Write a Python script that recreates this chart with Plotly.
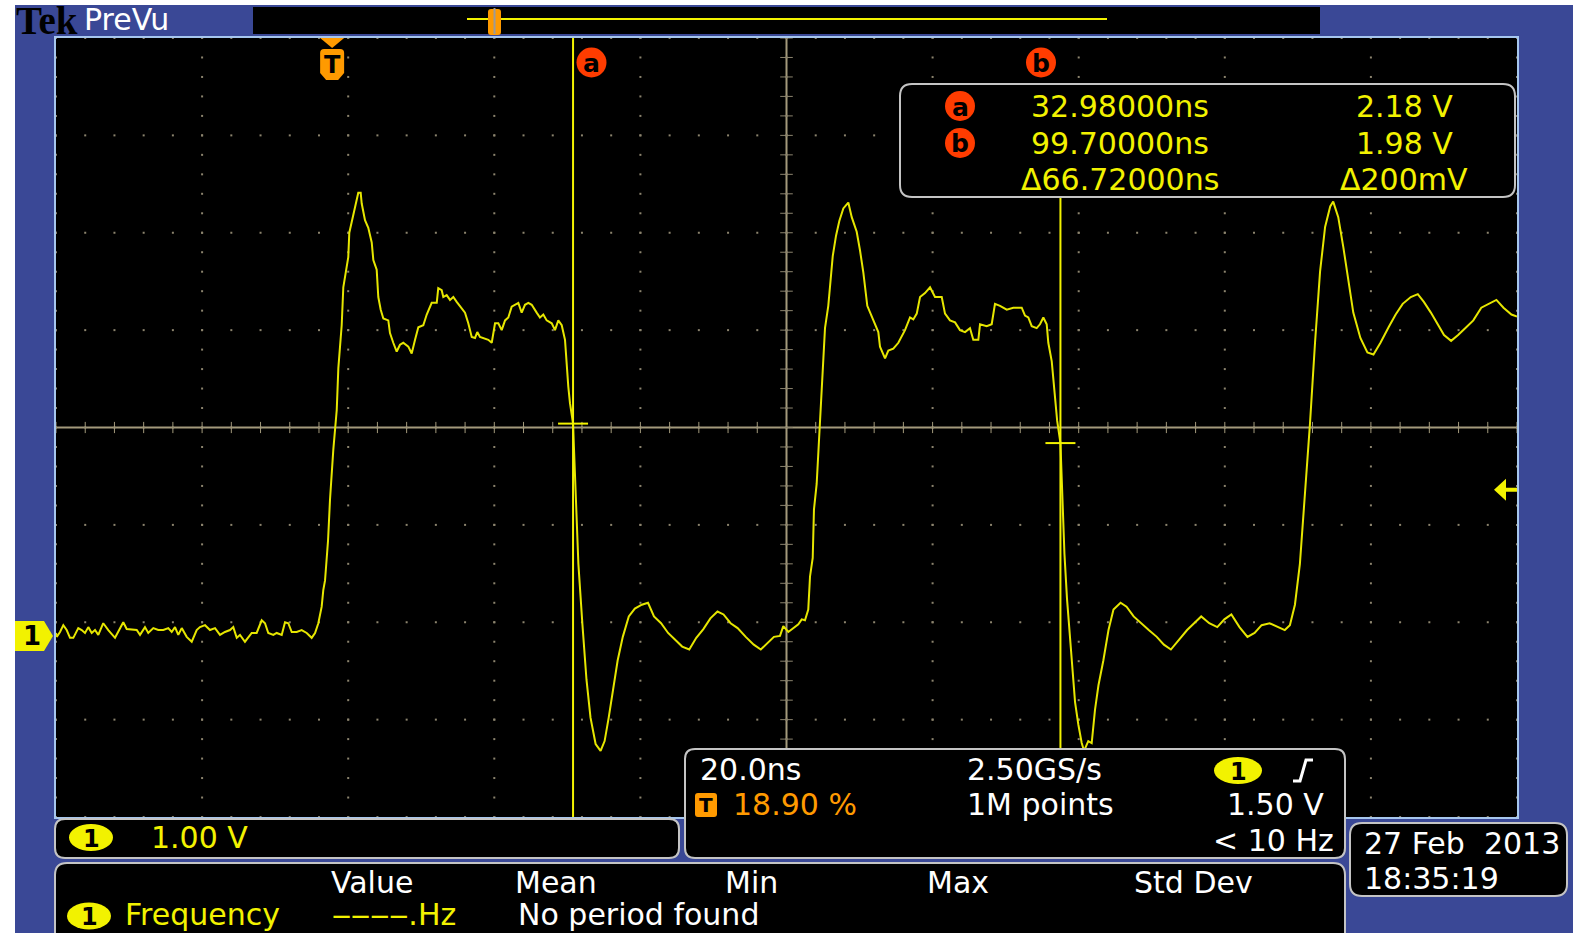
import plotly.graph_objects as go

# ---- acquisition settings (CH1) ----
TIME_PER_DIV_NS = 20.0
VOLTS_PER_DIV = 1.00
TRIGGER_POS_PCT = 18.90
TRIGGER_LEVEL_V = 1.50
CH1_OFFSET_DIV = -2.14
H_DIVS, V_DIVS = 10, 8
SAMPLE_RATE = "2.50GS/s"
RECORD_LEN = "1M points"
TRIG_FREQ = "< 10 Hz"
DATE_STR = "27 Feb  2013"
TIME_STR = "18:35:19"

# ---- cursors ----
cursor_a_ns, cursor_a_v = 32.98, 2.18
cursor_b_ns, cursor_b_v = 99.70, 1.98

# ---- measurement table ----
meas_headers = ["Value", "Mean", "Min", "Max", "Std Dev"]
meas_name = "Frequency"
meas_value = "\u2012\u2012\u2012\u2012.Hz"
meas_note = "No period found"

# ---- CH1 record ----
time_ns = [
    -37.80, -37.70, -37.25, -36.80, -36.34, -35.88, -35.43, -34.75, -34.28, -33.83,
    -33.38, -32.91, -32.46, -32.01, -31.33, -30.64, -29.72, -29.27, -28.59, -28.12,
    -27.22, -26.75, -26.30, -25.62, -25.17, -24.48, -23.80, -23.11, -22.43, -21.96,
    -21.51, -21.06, -20.59, -19.91, -19.22, -18.54, -18.09, -17.40, -16.72, -16.03,
    -15.35, -14.67, -13.98, -13.53, -13.06, -12.61, -11.93, -11.01, -10.33, -9.64,
    -9.19, -8.74, -8.05, -7.59, -6.90, -6.45, -6.00, -5.53, -4.85, -4.17,
    -3.48, -2.80, -2.34, -1.89, -1.43, -1.21, -0.97, -0.56, -0.29, 0.16,
    0.63, 0.85, 1.08, 1.31, 1.53, 1.99, 2.21, 2.35, 2.68, 3.13,
    3.58, 3.91, 4.05, 4.50, 4.95, 5.42, 5.64, 6.10, 6.32, 6.65,
    7.01, 7.69, 7.92, 8.37, 8.84, 9.29, 9.74, 10.43, 10.89, 11.35,
    11.80, 12.48, 12.95, 13.63, 14.32, 14.53, 15.00, 15.22, 15.68, 16.14,
    16.59, 17.05, 17.74, 18.19, 18.64, 19.11, 19.56, 19.87, 20.24, 20.70,
    21.38, 21.85, 22.30, 22.75, 23.21, 23.67, 24.12, 24.58, 25.03, 25.49,
    25.95, 26.40, 26.86, 27.32, 28.00, 28.45, 28.91, 29.37, 30.06, 30.51,
    30.96, 31.43, 31.88, 32.11, 32.33, 32.56, 32.98, 33.10, 33.35, 33.71,
    34.27, 34.82, 35.37, 36.07, 36.75, 37.30, 37.86, 38.41, 39.09, 39.79,
    40.61, 41.44, 42.40, 43.24, 44.06, 45.03, 45.99, 46.96, 47.92, 48.89,
    49.85, 50.82, 51.78, 52.75, 53.58, 54.55, 55.51, 56.62, 57.72, 58.68,
    59.65, 60.48, 61.31, 61.76, 62.45, 63.13, 63.82, 64.28, 64.73, 65.18,
    65.42, 65.79, 65.96, 66.33, 66.55, 66.79, 67.02, 67.24, 67.47, 67.92,
    68.16, 68.53, 68.98, 69.43, 69.98, 70.66, 71.13, 71.81, 72.26, 72.72,
    73.26, 74.08, 74.77, 75.00, 75.69, 76.14, 76.82, 77.51, 77.97, 78.42,
    79.11, 79.56, 80.03, 80.48, 81.16, 81.85, 82.53, 83.45, 83.90, 84.58,
    85.27, 85.95, 86.64, 87.32, 87.77, 88.46, 88.69, 89.61, 90.29, 90.74,
    91.43, 92.35, 93.25, 94.40, 94.85, 95.30, 95.77, 96.45, 96.90, 97.36,
    97.82, 98.04, 98.51, 98.85, 99.25, 99.70, 99.90, 100.05, 100.25, 100.60,
    101.00, 101.38, 101.70, 102.15, 102.61, 102.93, 103.51, 103.98, 104.43, 104.90,
    105.58, 106.28, 106.96, 107.93, 108.75, 109.72, 110.68, 111.79, 112.89, 113.86,
    114.82, 115.93, 117.04, 118.00, 118.97, 120.07, 121.17, 122.14, 123.10, 124.21,
    125.30, 126.28, 127.24, 128.34, 129.45, 130.41, 131.11, 131.80, 132.48, 133.17,
    133.86, 134.55, 135.24, 135.93, 136.63, 137.04, 137.73, 138.43, 139.11, 139.79,
    140.76, 141.72, 142.55, 143.51, 144.62, 145.59, 146.55, 147.66, 148.62, 149.45,
    150.41, 151.39, 152.21, 153.18, 154.14, 155.25, 156.22, 157.31, 158.28, 159.38,
    160.35, 161.44, 162.20,
]
volts = [
    0.03, -0.01, 0.04, 0.11, 0.06, -0.02, -0.02, 0.08, 0.06, 0.03,
    0.09, 0.03, 0.06, 0.01, 0.13, 0.06, -0.02, 0.04, 0.14, 0.07,
    0.06, 0.06, 0.01, 0.09, 0.03, 0.08, 0.06, 0.06, 0.08, 0.04,
    0.09, 0.01, 0.08, -0.01, -0.06, 0.06, 0.09, 0.11, 0.06, 0.08,
    0.01, 0.04, 0.06, 0.09, -0.02, 0.01, -0.06, 0.03, 0.03, 0.16,
    0.13, 0.03, 0.01, 0.03, 0.01, 0.14, 0.13, 0.04, 0.04, 0.06,
    0.03, -0.02, 0.03, 0.13, 0.30, 0.47, 0.57, 0.98, 1.40, 1.91,
    2.32, 2.75, 2.97, 3.19, 3.58, 3.79, 3.89, 4.14, 4.25, 4.37,
    4.55, 4.55, 4.44, 4.27, 4.19, 4.04, 3.86, 3.76, 3.48, 3.35,
    3.26, 3.24, 3.11, 3.01, 2.92, 2.99, 3.01, 2.97, 2.90, 3.04,
    3.17, 3.19, 3.30, 3.42, 3.42, 3.57, 3.55, 3.48, 3.50, 3.45,
    3.48, 3.43, 3.37, 3.32, 3.21, 3.07, 3.06, 3.12, 3.07, 3.06,
    3.04, 3.01, 3.21, 3.21, 3.14, 3.24, 3.27, 3.38, 3.40, 3.42,
    3.32, 3.40, 3.42, 3.40, 3.32, 3.27, 3.30, 3.24, 3.21, 3.14,
    3.24, 3.19, 3.04, 2.73, 2.56, 2.39, 2.18, 1.94, 1.36, 0.74,
    0.11, -0.45, -0.84, -1.11, -1.18, -1.08, -0.84, -0.56, -0.25, -0.01,
    0.20, 0.28, 0.32, 0.34, 0.20, 0.13, 0.03, -0.04, -0.11, -0.14,
    -0.02, 0.07, 0.18, 0.25, 0.22, 0.13, 0.08, -0.01, -0.09, -0.14,
    -0.07, -0.01, 0.00, 0.10, 0.04, 0.08, 0.12, 0.17, 0.16, 0.27,
    0.61, 0.80, 1.30, 1.56, 1.87, 2.17, 2.55, 2.78, 3.16, 3.39,
    3.62, 3.90, 4.11, 4.26, 4.39, 4.45, 4.30, 4.15, 3.96, 3.73,
    3.39, 3.24, 3.12, 2.97, 2.85, 2.93, 2.95, 3.01, 3.08, 3.14,
    3.27, 3.25, 3.31, 3.48, 3.52, 3.58, 3.48, 3.48, 3.31, 3.24,
    3.22, 3.14, 3.12, 3.16, 3.04, 3.04, 3.20, 3.18, 3.20, 3.41,
    3.39, 3.35, 3.37, 3.37, 3.29, 3.27, 3.18, 3.16, 3.20, 3.27,
    3.20, 3.01, 2.82, 2.51, 2.21, 1.98, 1.52, 1.14, 0.84, 0.38,
    0.00, -0.45, -0.68, -0.91, -1.10, -1.18, -1.08, -1.10, -0.76, -0.51,
    -0.25, 0.06, 0.27, 0.34, 0.30, 0.20, 0.13, 0.06, -0.01, -0.09,
    -0.14, -0.04, 0.06, 0.13, 0.20, 0.13, 0.09, 0.17, 0.22, 0.09,
    -0.01, 0.03, 0.11, 0.13, 0.09, 0.06, 0.11, 0.32, 0.74, 1.46,
    2.18, 3.01, 3.74, 4.20, 4.41, 4.46, 4.30, 3.99, 3.63, 3.32,
    3.06, 2.91, 2.89, 3.01, 3.17, 3.30, 3.41, 3.48, 3.51, 3.43,
    3.32, 3.20, 3.09, 3.03, 3.09, 3.17, 3.24, 3.37, 3.41, 3.45,
    3.37, 3.30, 3.28,
]

# ---- screen geometry ----
W, H = 1580, 933
L, R, T, B = 56, 1517, 38, 817

BLUE = "#3a4896"
YELLOW = "#f2f200"
TRACE = "#e6e600"
ORANGE = "#ff9a00"
RED = "#ff3c00"
FRAME = "#c4c4c4"
GRID = "#8c846e"
AXIS = "#a39a7c"
FONT = "DejaVu Sans"

t_left = -TRIGGER_POS_PCT / 100.0 * H_DIVS * TIME_PER_DIV_NS
t_right = t_left + H_DIVS * TIME_PER_DIV_NS
v_bottom = (-V_DIVS / 2 - CH1_OFFSET_DIV) * VOLTS_PER_DIV
v_top = v_bottom + V_DIVS * VOLTS_PER_DIV
t_mid = (t_left + t_right) / 2
v_mid = (v_bottom + v_top) / 2


def PX(x):
    return (x - L) / (R - L)


def PY(y):
    return (B - y) / (B - T)


shapes = []
annotations = []


def rect(x0, y0, x1, y1, fill, line=None, width=0, layer="above"):
    shapes.append(dict(type="rect", xref="paper", yref="paper",
                       x0=PX(x0), x1=PX(x1), y0=PY(y1), y1=PY(y0),
                       fillcolor=fill, layer=layer,
                       line=dict(color=line or fill, width=width)))


def rrect(x0, y0, x1, y1, r, fill="black", line=FRAME, width=2):
    p = (f"M {PX(x0 + r)},{PY(y0)} L {PX(x1 - r)},{PY(y0)} "
         f"Q {PX(x1)},{PY(y0)} {PX(x1)},{PY(y0 + r)} L {PX(x1)},{PY(y1 - r)} "
         f"Q {PX(x1)},{PY(y1)} {PX(x1 - r)},{PY(y1)} L {PX(x0 + r)},{PY(y1)} "
         f"Q {PX(x0)},{PY(y1)} {PX(x0)},{PY(y1 - r)} L {PX(x0)},{PY(y0 + r)} "
         f"Q {PX(x0)},{PY(y0)} {PX(x0 + r)},{PY(y0)} Z")
    shapes.append(dict(type="path", xref="paper", yref="paper", path=p,
                       fillcolor=fill, line=dict(color=line, width=width),
                       layer="above"))


def poly(points, fill, line=None, width=0, closed=True):
    p = "M " + " L ".join(f"{PX(x)},{PY(y)}" for x, y in points)
    if closed:
        p += " Z"
    shapes.append(dict(type="path", xref="paper", yref="paper", path=p,
                       fillcolor=fill, line=dict(color=line or fill, width=width),
                       layer="above"))


def ellipse(cx, cy, rx, ry, fill):
    shapes.append(dict(type="circle", xref="paper", yref="paper",
                       x0=PX(cx - rx), x1=PX(cx + rx), y0=PY(cy + ry), y1=PY(cy - ry),
                       fillcolor=fill, line=dict(color=fill, width=0), layer="above"))


def vline(x, y0, y1, color, width):
    shapes.append(dict(type="line", xref="paper", yref="paper",
                       x0=PX(x), x1=PX(x), y0=PY(y1), y1=PY(y0),
                       line=dict(color=color, width=width), layer="above"))


def hline(x0, x1, y, color, width):
    shapes.append(dict(type="line", xref="paper", yref="paper",
                       x0=PX(x0), x1=PX(x1), y0=PY(y), y1=PY(y),
                       line=dict(color=color, width=width), layer="above"))


def text(x, y, s, color, size=30, anchor="left", family=FONT, bold=False):
    annotations.append(dict(xref="paper", yref="paper", x=PX(x), y=PY(y),
                            text=f"<b>{s}</b>" if bold else s,
                            xanchor=anchor, yanchor="middle", showarrow=False,
                            font=dict(color=color, size=size, family=family)))


def badge(cx, cy, label, fill=YELLOW, rx=22, ry=13.5, size=24):
    ellipse(cx, cy, rx, ry, fill)
    text(cx, cy + 1, label, "black", size=size, anchor="center", bold=True)


fig = go.Figure()

# ---- graticule: dotted divisions ----
gx, gy = [], []
minor_t = TIME_PER_DIV_NS / 5
minor_v = VOLTS_PER_DIV / 5
for k in range(H_DIVS + 1):
    for j in range(V_DIVS * 5 + 1):
        gx.append(t_left + k * TIME_PER_DIV_NS)
        gy.append(v_bottom + j * minor_v)
for m in range(V_DIVS + 1):
    for i in range(H_DIVS * 5 + 1):
        gx.append(t_left + i * minor_t)
        gy.append(v_bottom + m * VOLTS_PER_DIV)
fig.add_trace(go.Scatter(x=gx, y=gy, mode="markers", hoverinfo="skip",
                         marker=dict(symbol="square", size=2, color=GRID,
                                     line=dict(width=0))))

# center cross ticks
fig.add_trace(go.Scatter(
    x=[t_left + i * minor_t for i in range(H_DIVS * 5 + 1)],
    y=[v_mid] * (H_DIVS * 5 + 1), mode="markers", hoverinfo="skip",
    marker=dict(symbol="line-ns", size=8, line=dict(color=AXIS, width=1))))
fig.add_trace(go.Scatter(
    x=[t_mid] * (V_DIVS * 5 + 1),
    y=[v_bottom + j * minor_v for j in range(V_DIVS * 5 + 1)], mode="markers",
    hoverinfo="skip",
    marker=dict(symbol="line-ew", size=9, line=dict(color=GRID, width=1))))

shapes.append(dict(type="line", xref="x", yref="y", x0=t_left, x1=t_right,
                   y0=v_mid, y1=v_mid, line=dict(color=AXIS, width=2), layer="below"))
shapes.append(dict(type="line", xref="x", yref="y", x0=t_mid, x1=t_mid,
                   y0=v_bottom, y1=v_top, line=dict(color=AXIS, width=2), layer="below"))

# ---- CH1 waveform ----
fig.add_trace(go.Scatter(x=time_ns, y=volts, mode="lines", hoverinfo="skip",
                         line=dict(color=TRACE, width=2)))

# ---- cursors ----
shapes.append(dict(type="line", xref="x", yref="paper", x0=cursor_a_ns, x1=cursor_a_ns,
                   y0=0, y1=1, line=dict(color=YELLOW, width=2), layer="above"))
shapes.append(dict(type="line", xref="x", yref="paper", x0=cursor_b_ns, x1=cursor_b_ns,
                   y0=0, y1=PY(197), line=dict(color=YELLOW, width=2), layer="above"))
for cx, cv in ((cursor_a_ns, cursor_a_v), (cursor_b_ns, cursor_b_v)):
    shapes.append(dict(type="line", xref="x", yref="y", xsizemode="pixel", xanchor=cx,
                       x0=-15, x1=15, y0=cv, y1=cv,
                       line=dict(color=YELLOW, width=2), layer="above"))


def cursor_tag(cx, cy, letter):
    ellipse(cx, cy, 15, 15, RED)
    text(cx, cy + 1, letter, "black", size=25, anchor="center", bold=True)


cursor_tag(591.5, 62.5, "a")
cursor_tag(1041, 62.5, "b")

# ---- trigger position marker (t = 0) ----
shapes.append(dict(type="path", xref="x", yref="paper", xsizemode="pixel", xanchor=0,
                   path=f"M -12,{PY(38)} L 12,{PY(38)} L 0,{PY(48)} Z",
                   fillcolor=ORANGE, line=dict(color=ORANGE, width=0), layer="above"))
shapes.append(dict(type="path", xref="x", yref="paper", xsizemode="pixel", xanchor=0,
                   path=(f"M -12,{PY(53)} Q -12,{PY(49)} -8,{PY(49)} L 8,{PY(49)} "
                         f"Q 12,{PY(49)} 12,{PY(53)} L 12,{PY(73)} L 6,{PY(80)} "
                         f"L -6,{PY(80)} L -12,{PY(73)} Z"),
                   fillcolor=ORANGE, line=dict(color=ORANGE, width=0), layer="above"))
annotations.append(dict(xref="x", yref="paper", x=0, y=PY(65), text="<b>T</b>",
                        showarrow=False, xanchor="center", yanchor="middle",
                        font=dict(color="black", size=24, family=FONT)))

# ---- trigger level arrow (right edge) ----
shapes.append(dict(type="path", xref="paper", yref="y", ysizemode="pixel",
                   yanchor=TRIGGER_LEVEL_V,
                   path=(f"M {PX(1494)},0 L {PX(1506)},-11 L {PX(1506)},-2 L {PX(1517)},-2 "
                         f"L {PX(1517)},2 L {PX(1506)},2 L {PX(1506)},11 Z"),
                   fillcolor=YELLOW, line=dict(color=YELLOW, width=0), layer="above"))

# ---- CH1 ground marker (left edge) ----
shapes.append(dict(type="path", xref="paper", yref="y", ysizemode="pixel", yanchor=0,
                   path=(f"M {PX(15)},-15 L {PX(44)},-15 L {PX(53)},0 L {PX(44)},15 "
                         f"L {PX(15)},15 Z"),
                   fillcolor=YELLOW, line=dict(color=YELLOW, width=0), layer="above"))
annotations.append(dict(xref="paper", yref="y", x=PX(32), y=0, text="<b>1</b>",
                        showarrow=False, xanchor="center", yanchor="middle",
                        font=dict(color="black", size=26, family=FONT)))

# ---- frame ----
rect(0, 0, 15, H, "white")
rect(0, 0, W, 5, "white")
rect(1573, 0, W, H, "white")
shapes.append(dict(type="rect", xref="paper", yref="paper", x0=PX(55), x1=PX(1518),
                   y0=PY(818), y1=PY(37), line=dict(color="#a6c6ee", width=2),
                   fillcolor="rgba(0,0,0,0)", layer="above"))

# header
text(14, 21, "Tek", "black", size=39, family="Liberation Serif", bold=True)
text(82, 20, "PreVu", "white", size=30)
rect(253, 7, 1320, 34, "black")
hline(467, 1107, 19, YELLOW, 2)
rrect(488, 9, 501, 35, 3, fill=ORANGE, line=ORANGE, width=0)
vline(494.5, 8, 34, "#9a9a9a", 2)

# ---- cursor readout ----
rrect(900, 84, 1515, 197, 12)
cursor_tag(960, 106, "a")
cursor_tag(960, 143, "b")
text(1120, 106, f"{cursor_a_ns:.5f}ns", YELLOW, anchor="center")
text(1120, 143, f"{cursor_b_ns:.5f}ns", YELLOW, anchor="center")
text(1120, 180, f"Δ{cursor_b_ns - cursor_a_ns:.5f}ns", YELLOW, anchor="center")
text(1404, 106, f"{cursor_a_v:.2f} V", YELLOW, anchor="center")
text(1404, 143, f"{cursor_b_v:.2f} V", YELLOW, anchor="center")
text(1404, 180, f"Δ{abs(cursor_a_v - cursor_b_v) * 1000:.0f}mV", YELLOW, anchor="center")

# ---- vertical scale box ----
rrect(55, 819, 679, 858, 10)
badge(91, 837.5, "1")
text(149, 837.5, f"{VOLTS_PER_DIV:.2f} V", YELLOW)

# ---- horizontal / trigger box ----
rrect(685, 749, 1345, 858, 10)
text(698, 769, f"{TIME_PER_DIV_NS:.1f}ns", "white")
rrect(695, 793, 717, 817, 3, fill=ORANGE, line=ORANGE, width=0)
text(706, 805, "T", "black", size=20, anchor="center", bold=True)
text(731, 804.5, f"{TRIGGER_POS_PCT:.2f} %", ORANGE)
text(965, 769, SAMPLE_RATE, "white")
text(965, 804.5, RECORD_LEN, "white")
badge(1238, 770.5, "1", rx=24)
poly([(1293, 781), (1300, 781), (1306, 760), (1313, 760)], "rgba(0,0,0,0)",
     line="white", width=3, closed=False)
text(1326, 804.5, f"{TRIGGER_LEVEL_V:.2f} V", "white", anchor="right")
text(1336, 840, TRIG_FREQ, "white", anchor="right")

# ---- measurement panel ----
rrect(55, 863, 1345, 950, 12)
for hx, h in zip([372, 556, 751, 958, 1193], meas_headers):
    text(hx, 882, h, "white", anchor="center")
badge(89, 916, "1")
text(123, 914.5, meas_name, YELLOW)
text(330, 914.5, meas_value, YELLOW)
text(516, 914.5, meas_note, "white")

# ---- date / time ----
rrect(1350, 823, 1567, 896, 12)
text(1362, 843, DATE_STR, "white")
text(1362, 878, TIME_STR, "white")

fig.update_layout(
    width=W, height=H, autosize=False,
    margin=dict(l=L, r=W - R, t=T, b=H - B, pad=0),
    paper_bgcolor=BLUE, plot_bgcolor="black",
    showlegend=False,
    xaxis=dict(range=[t_left, t_right], visible=False, fixedrange=True),
    yaxis=dict(range=[v_bottom, v_top], visible=False, fixedrange=True),
    shapes=shapes, annotations=annotations,
)

fig.write_html("out.html", config={"displayModeBar": False})
